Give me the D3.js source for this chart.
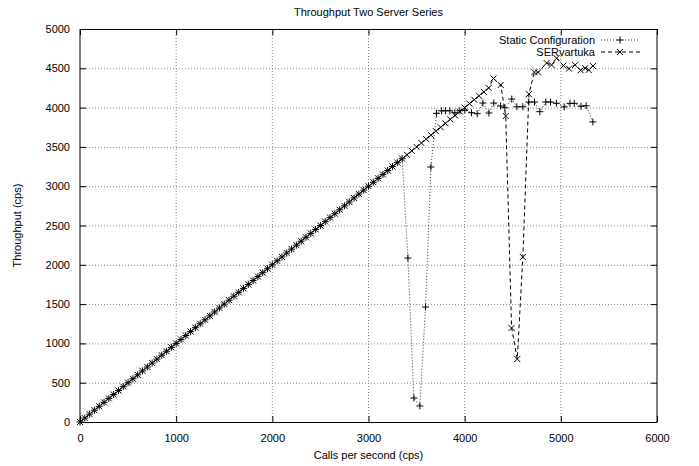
<!DOCTYPE html>
<html><head><meta charset="utf-8">
<script src="https://cdn.jsdelivr.net/npm/d3@7"></script>
<style>body{margin:0;background:#fff}svg{display:block}text{font-family:"Liberation Sans",Arial,sans-serif;font-size:11px;fill:#000}</style>
</head><body>
<script>
const title = "Throughput Two Server Series";
const xLabel = "Calls per second (cps)";
const yLabel = "Throughput (cps)";
const xTicks = [0,1000,2000,3000,4000,5000,6000];
const yTicks = [0,500,1000,1500,2000,2500,3000,3500,4000,4500,5000];
const seriesNames = ["Static Configuration","SERvartuka"];

const staticX = [0,50,100,150,200,250,300,350,400,450,500,550,600,650,700,750,800,850,900,950,1000,1050,1100,1150,1200,1250,1300,1350,1400,1450,1500,1550,1600,1650,1700,1750,1800,1850,1900,1950,2000,2050,2100,2150,2200,2250,2300,2350,2400,2450,2500,2550,2600,2650,2700,2750,2800,2850,2900,2950,3000,3050,3100,3150,3200,3250,3300,3350,
  3410,3472,3534,3593,3649,3707,3760,3800,3846,3898,3950,4002,4071,4130,4189,4252,4303,4373,4418,4490,4543,4605,4667,4726,4782,4844,4893,4954,5035,5095,5140,5210,5263,5333];
const staticY = [0,50,100,150,200,250,300,350,400,450,500,550,600,650,700,750,800,850,900,950,1000,1050,1100,1150,1200,1250,1300,1350,1400,1450,1500,1550,1600,1650,1700,1750,1800,1850,1900,1950,2000,2050,2100,2150,2200,2250,2300,2350,2400,2450,2500,2550,2600,2650,2700,2750,2800,2850,2900,2950,3000,3050,3100,3150,3200,3250,3300,3350,
  2086,305,204,1463,3244,3927,3960,3960,3960,3935,3960,3969,3935,3922,4058,3931,4058,4020,3999,4109,4011,4011,4071,4071,3948,4071,4071,4055,4009,4054,4054,4016,4024,3818];

const serX = [0,50,100,150,200,250,300,350,400,450,500,550,600,650,700,750,800,850,900,950,1000,1050,1100,1150,1200,1250,1300,1350,1400,1450,1500,1550,1600,1650,1700,1750,1800,1850,1900,1950,2000,2050,2100,2150,2200,2250,2300,2350,2400,2450,2500,2550,2600,2650,2700,2750,2800,2850,2900,2950,3000,3050,3100,3150,3200,3250,3300,3350,3400,3450,3500,3550,3600,3650,3700,3750,3800,3850,3900,3950,4000,4050,4100,4150,4200,4250,4300,
  4375,4427,4488,4547,4605,4668,4725,4763,4852,4904,4956,5027,5085,5149,5206,5253,5290,5334];
const serY = [0,50,100,150,200,250,300,350,400,450,500,550,600,650,700,750,800,850,900,950,1000,1050,1100,1150,1200,1250,1300,1350,1400,1450,1500,1550,1600,1650,1700,1750,1800,1850,1900,1950,2000,2050,2100,2150,2200,2250,2300,2350,2400,2450,2500,2550,2600,2650,2700,2750,2800,2850,2900,2950,3000,3050,3100,3150,3200,3250,3300,3350,3400,3450,3500,3550,3600,3650,3700,3750,3800,3850,3900,3950,4000,4050,4100,4150,4200,4250,4370,
  4288,3893,1196,801,2099,4171,4451,4448,4567,4542,4629,4535,4496,4542,4475,4502,4479,4529];

const W = 699, H = 466;
const m = {left:80, right:657, top:29, bottom:422};
const x = d3.scaleLinear().domain([0,6000]).range([m.left, m.right]);
const y = d3.scaleLinear().domain([0,5000]).range([m.bottom, m.top]);

const svg = d3.select("body").append("svg").attr("width", W).attr("height", H);

// grid
const g = svg.append("g");
g.selectAll(".gx").data(xTicks.slice(1, -1)).enter().append("line")
  .attr("x1", d=>x(d)).attr("x2", d=>x(d)).attr("y1", m.top).attr("y2", m.bottom)
  .attr("stroke", "#888").attr("stroke-width", 1).attr("stroke-dasharray", "1,2");
g.selectAll(".gy").data(yTicks.slice(1, -1)).enter().append("line")
  .attr("y1", d=>y(d)+0.5).attr("y2", d=>y(d)+0.5).attr("x1", m.left).attr("x2", m.right)
  .attr("stroke", "#888").attr("stroke-width", 1).attr("stroke-dasharray", "1,2");

// axes with inward ticks (mirror)
const ax = svg.append("g");
ax.append("g").attr("transform", `translate(0,${m.bottom})`)
  .call(d3.axisBottom(x).tickValues(xTicks).tickSize(-6).tickPadding(12).tickFormat(d3.format("d")))
  .call(s=>s.select(".domain").remove());
ax.append("g").attr("transform", `translate(0,${m.top})`)
  .call(d3.axisTop(x).tickValues(xTicks).tickSize(-6).tickFormat(""))
  .call(s=>s.select(".domain").remove());
ax.append("g").attr("transform", `translate(${m.left},0)`)
  .call(d3.axisLeft(y).tickValues(yTicks).tickSize(-6).tickPadding(10).tickFormat(d3.format("d")))
  .call(s=>s.select(".domain").remove());
ax.append("g").attr("transform", `translate(${m.right},0)`)
  .call(d3.axisRight(y).tickValues(yTicks).tickSize(-6).tickFormat(""))
  .call(s=>s.select(".domain").remove());
ax.selectAll("text").style("font-family", '"Liberation Sans",Arial,sans-serif').style("font-size", "11px");
ax.selectAll(".tick line").attr("stroke", "#000");

svg.append("rect").attr("x", m.left).attr("y", m.top+0.5)
  .attr("width", m.right - m.left).attr("height", m.bottom - m.top)
  .attr("fill", "none").attr("stroke", "#000").attr("stroke-width", 1);

// titles
svg.append("text").attr("x", (m.left+m.right)/2).attr("y", 16).attr("text-anchor", "middle").text(title);
svg.append("text").attr("x", (m.left+m.right)/2).attr("y", 459).attr("text-anchor", "middle").text(xLabel);
svg.append("text").attr("transform", `translate(21,${(m.top+m.bottom)/2}) rotate(-90)`).attr("text-anchor", "middle").text(yLabel);

const line = d3.line().x(d=>x(d[0])).y(d=>y(d[1]));
const staticData = staticX.map((v,i)=>[v, staticY[i]]);
const serData = serX.map((v,i)=>[v, serY[i]]);

const plusPath = s => `M${-s},0H${s}M0,${-s}V${s}`;
const crossPath = s => `M${-s},${-s}L${s},${s}M${-s},${s}L${s},${-s}`;

function drawSeries(data, dash, color, marker) {
  svg.append("path").datum(data).attr("d", line).attr("fill", "none")
    .attr("stroke", color).attr("stroke-width", 1).attr("stroke-dasharray", dash);
  svg.append("g").selectAll("path").data(data).enter().append("path")
    .attr("transform", d=>`translate(${x(d[0])},${y(d[1])})`)
    .attr("d", marker).attr("stroke", "#000").attr("stroke-width", 1).attr("fill", "none");
}
drawSeries(staticData, "1,2", "#333", plusPath(3.5));
drawSeries(serData, "4,3", "#000", crossPath(3));

// legend
const leg = [
  {name: seriesNames[0], dash: "1,2", color: "#333", marker: plusPath(3.5), y: 40},
  {name: seriesNames[1], dash: "4,3", color: "#000", marker: crossPath(3), y: 52}
];
leg.forEach(l => {
  svg.append("text").attr("x", 595).attr("y", l.y + 4).attr("text-anchor", "end").text(l.name);
  svg.append("line").attr("x1", 601).attr("x2", 640).attr("y1", l.y).attr("y2", l.y)
    .attr("stroke", l.color).attr("stroke-dasharray", l.dash);
  svg.append("path").attr("transform", `translate(620,${l.y})`).attr("d", l.marker)
    .attr("stroke", "#000").attr("fill", "none");
});
</script>
</body></html>
